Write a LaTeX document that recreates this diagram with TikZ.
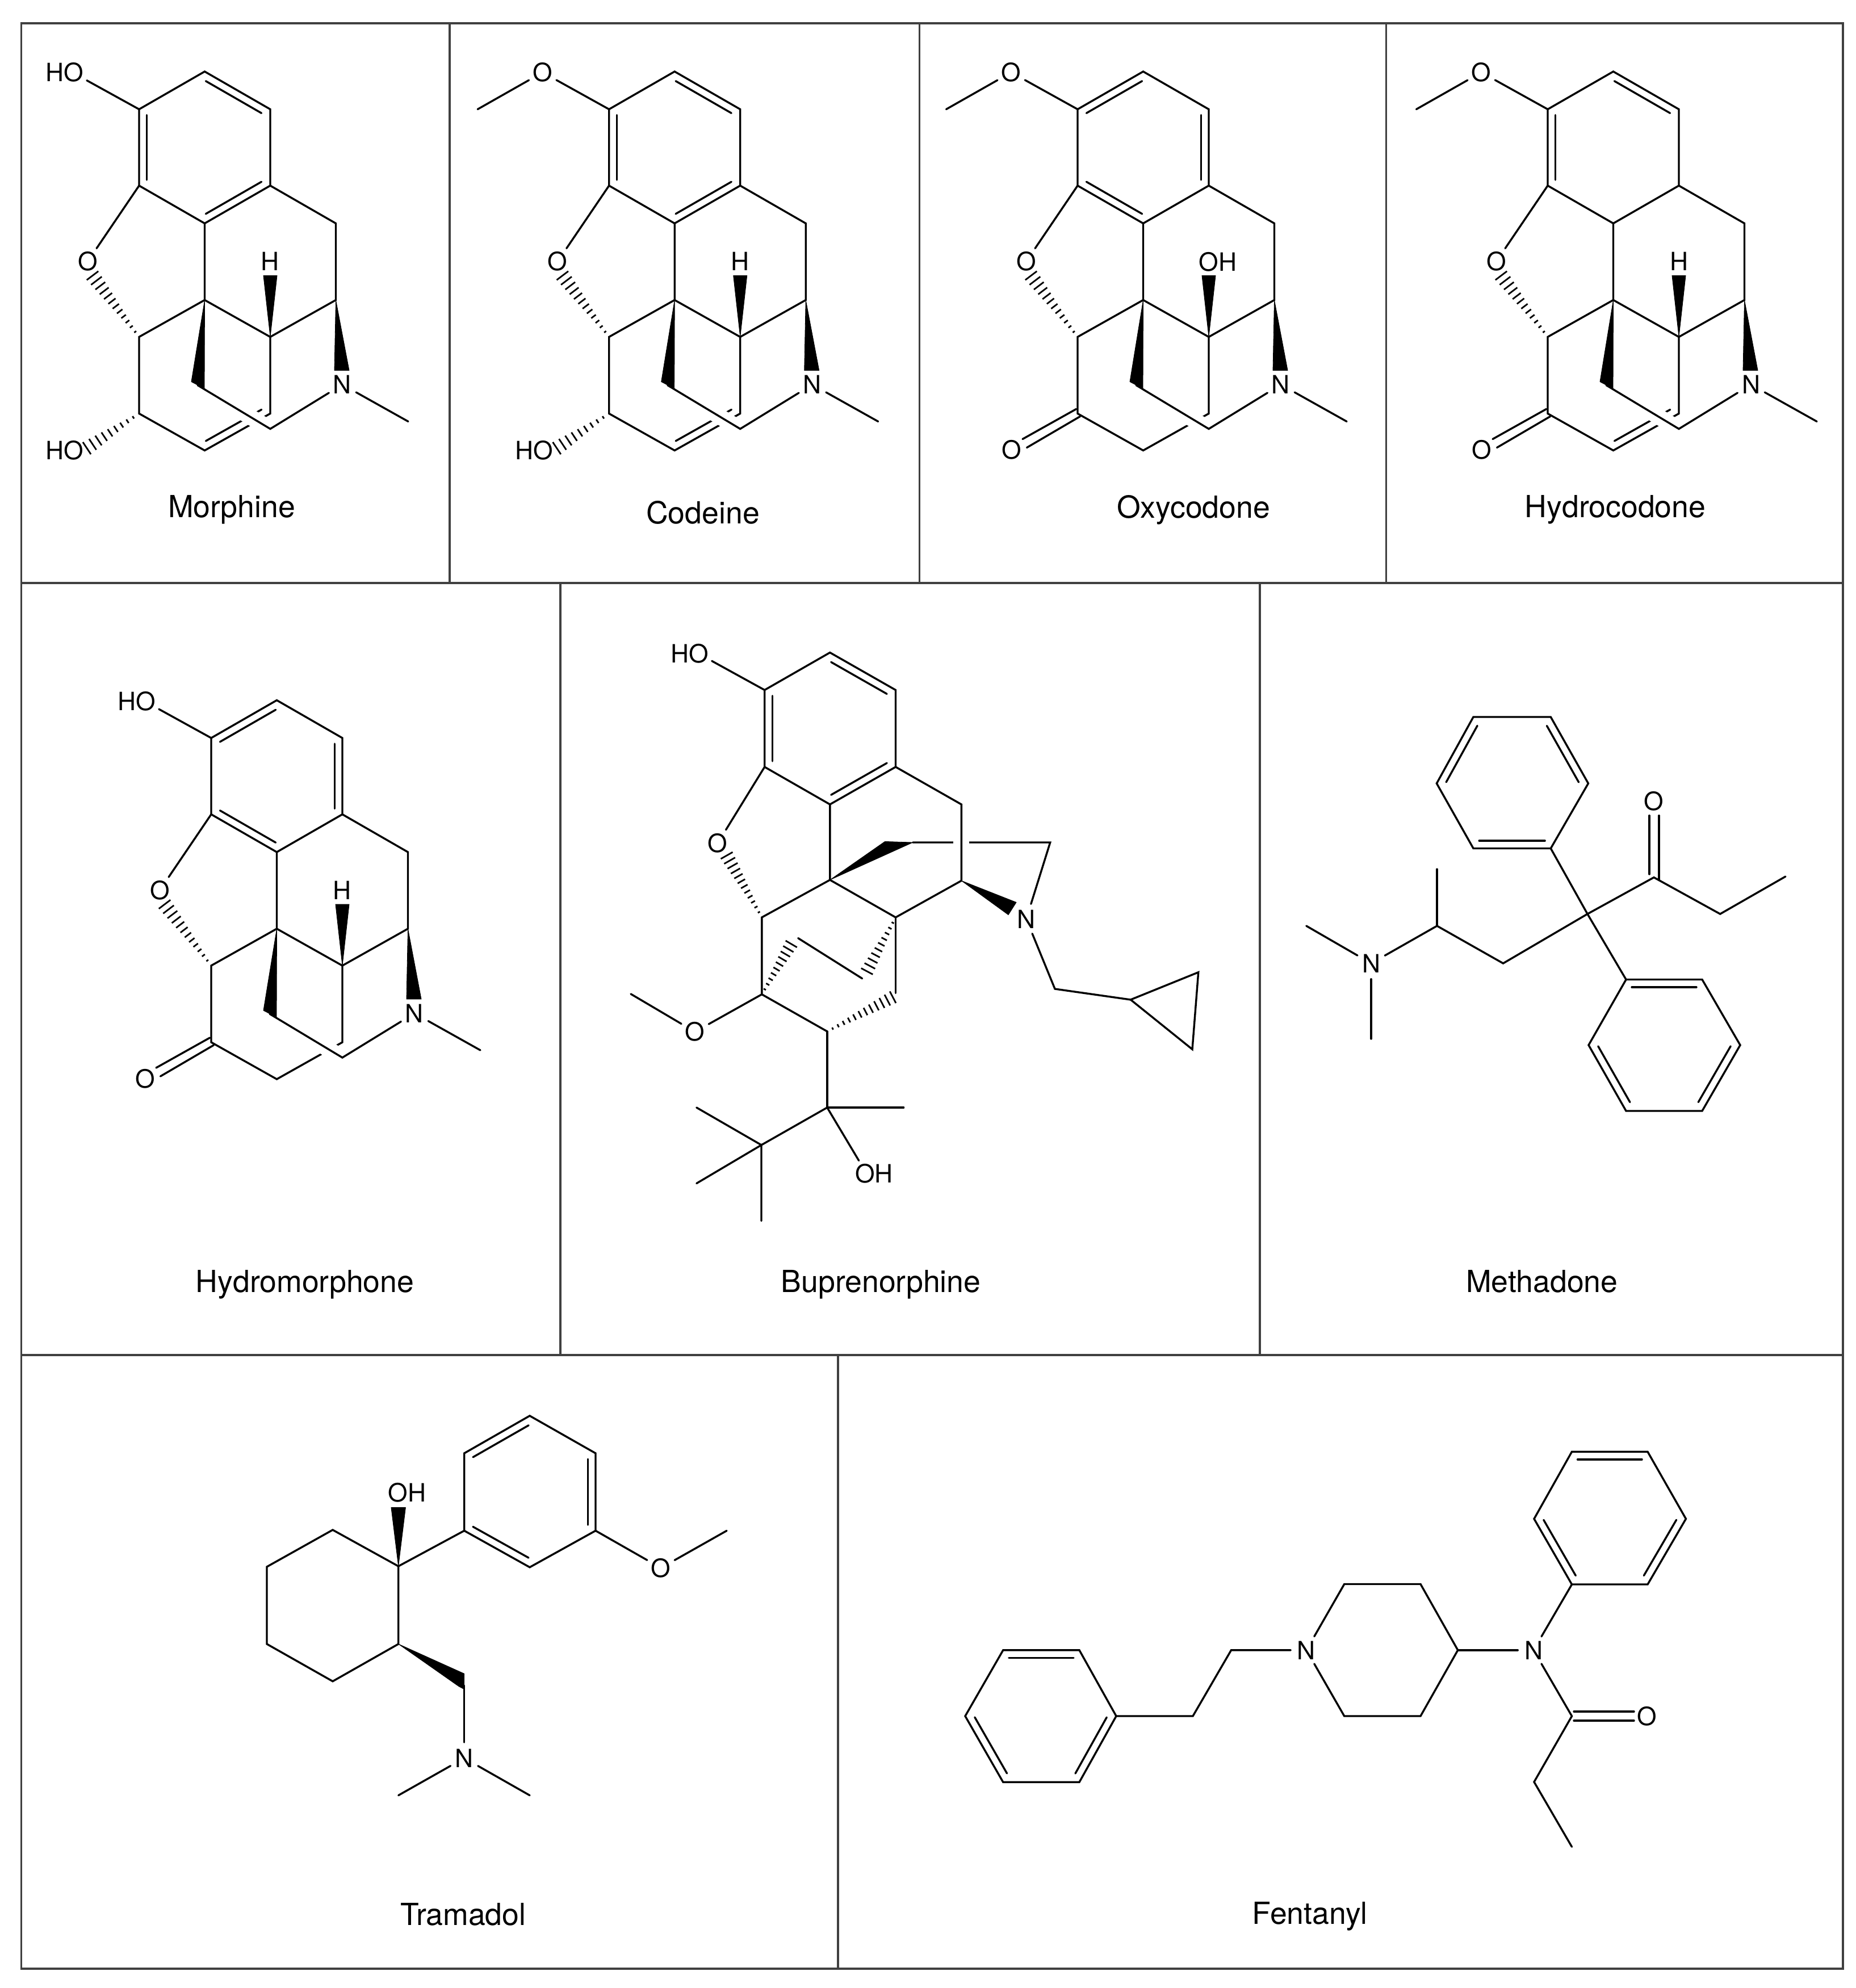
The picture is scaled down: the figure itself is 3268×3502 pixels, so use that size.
\documentclass[tikz,border=0pt]{standalone}
\usepackage{fontspec}
\setmainfont{TeX Gyre Heros}
\usetikzlibrary{calc}
\definecolor{framegrey}{HTML}{404040}
\tikzset{
  bond/.style={line width=0.85pt,line cap=round,line join=miter,black},
  hashline/.style={line width=0.7pt,black},
  halo/.style={line width=7pt,white,line cap=butt},
  wedgefill/.style={fill=black,draw=black,line width=0.2pt,line join=round},
  frameline/.style={line width=0.9pt,framegrey},
  atom/.style={shape=circle,inner sep=0pt,minimum size=13.5pt,font=\fontsize{11.1}{13}\selectfont},
  lab/.style={shape=rectangle,inner sep=1.2pt,font=\fontsize{11.1}{13}\selectfont},
  molname/.style={inner sep=0pt,font=\fontsize{13.4}{15}\selectfont}
}
% inner line of a double bond, lying to the right of A->B
\newcommand{\inb}[2]{%
  \coordinate (ia) at ($(#1)!0.075!(#2)$);
  \coordinate (ib) at ($(#1)!0.925!(#2)$);
  \draw[bond] ($(ia)!3.4pt!-90:(ib)$) -- ($(ib)!3.4pt!90:(ia)$);
}
% hashed bond from narrow A to wide B: n stripes, half width (pt)
\newcommand{\hashb}[4]{%
  \foreach \i in {1,...,#3}{%
    \pgfmathsetmacro\tt{\i/#3}
    \pgfmathsetmacro\ww{#4*\tt+0.3}
    \coordinate (hp) at ($(#1)!\tt!(#2)$);
    \draw[hashline] ($(hp)!\ww pt!90:(#1)$) -- ($(hp)!\ww pt!-90:(#1)$);
  }%
}
% morphinan skeleton: #1 prefix for names, #2 inner double-bond lines
\newcommand{\morphinan}[2]{%
  \coordinate (C3) at (0,0);
  \coordinate (C2) at (115.5,-66.5);
  \coordinate (C1) at (231,0);
  \coordinate (C11) at (231,134.5);
  \coordinate (C12) at (115.5,201);
  \coordinate (C4) at (0,134.5);
  \coordinate (C10) at (346.5,201);
  \coordinate (C9) at (346.5,336);
  \coordinate (C13) at (115.5,336);
  \coordinate (C14) at (231,401);
  \coordinate (C5) at (0,401);
  \coordinate (C6) at (0,536);
  \coordinate (C7) at (115.5,601);
  \coordinate (C8) at (231,536);
  \coordinate (C15) at (103,486);
  \coordinate (C16) at (231,563);
  \coordinate (Me) at (474,550);
  \coordinate (Oh) at (-82,293);
  \coordinate (wa) at (92,480);
  \coordinate (wb) at (115,492);
  \coordinate (wc) at (344,460);
  \coordinate (wd) at (370,460);
  \node[atom] (#1O) at (-90.5,268) {O};
  \node[atom] (#1N) at (358,485) {N};
  \draw[bond] (C3)--(C2)--(C1)--(C11)--(C12)--(C4)--cycle;
  \draw[bond] (C11)--(C10)--(C9)--(C14)--(C13)--(C12);
  \draw[bond] (C13)--(C5)--(C6)--(C7)--(C8)--(C14);
  \draw[bond] (C4)--(#1O);
  #2
  \draw[halo] ($(C15)!0.4!(C16)$) -- ($(C15)!0.9!(C16)$);
  \draw[bond] (C15)--(C16)--(#1N)--(Me);
  \hashb{C5}{Oh}{12}{2.9}
  \fill[wedgefill] (C13)--(wa)--(wb)--cycle;
  \fill[wedgefill] (C9)--(wc)--(wd)--cycle;
}
\newcommand{\topHO}[1]{%
  \node[lab] (#1ho) at (-131,-65) {HO};
  \draw[bond] (C3)--(#1ho.-20);
}
\newcommand{\topOMe}[1]{%
  \node[atom] (#1om) at (-117,-65) {O};
  \coordinate (#1me) at (-231.5,0);
  \draw[bond] (C3)--(#1om)--(#1me);
}
\newcommand{\lowHO}[1]{%
  \node[lab] (#1low) at (-131.5,600.5) {HO};
  \coordinate (#1hh) at (-92,597);
  \hashb{C6}{#1hh}{9}{2.9}
}
\newcommand{\keto}[1]{%
  \node[atom] (#1ket) at (-116.5,600) {O};
  \coordinate (#1ka) at (-2.4,528);
  \coordinate (#1kb) at (-97,581);
  \coordinate (#1kc) at (4.5,541);
  \coordinate (#1kd) at (-89.5,596);
  \draw[bond] (#1ka)--(#1kb);
  \draw[bond] (#1kc)--(#1kd);
}
\newcommand{\wedgeH}[1]{%
  \node[lab] (#1h) at (231,268) {H};
  \coordinate (we) at (219,293);
  \coordinate (wf) at (243,293);
  \fill[wedgefill] (C14)--(we)--(wf)--cycle;
}
\newcommand{\wedgeOH}[1]{%
  \node[lab] (#1oh) at (247,268.5) {OH};
  \coordinate (we) at (219,293);
  \coordinate (wf) at (243,293);
  \fill[wedgefill] (C14)--(we)--(wf)--cycle;
}
\begin{document}
\begin{tikzpicture}[x=0.25pt,y=-0.25pt]
\path[use as bounding box] (0,0) rectangle (3268,3502);
% frame
\draw[frameline] (37.5,41) rectangle (3246,3467.7);
\draw[frameline] (37.5,1026.7) -- (3246,1026.7);
\draw[frameline] (37.5,2386.7) -- (3246,2386.7);
\draw[frameline] (791.7,41) -- (791.7,1026.7);
\draw[frameline] (1619.5,41) -- (1619.5,1026.7);
\draw[frameline] (2441.5,41) -- (2441.5,1026.7);
\draw[frameline] (987,1026.7) -- (987,2386.7);
\draw[frameline] (2219,1026.7) -- (2219,2386.7);
\draw[frameline] (1475.7,2386.7) -- (1475.7,3467.7);
% Morphine
\begin{scope}[shift={(245,192.5)}]
  \morphinan{mo}{\inb{C2}{C1}\inb{C11}{C12}\inb{C4}{C3}\inb{C8}{C7}}
  \topHO{mo}\lowHO{mo}\wedgeH{mo}
\end{scope}
\node[molname] (namemo) at (408,898) {Morphine};
% Codeine
\begin{scope}[shift={(1072.7,192.5)}]
  \morphinan{co}{\inb{C2}{C1}\inb{C11}{C12}\inb{C4}{C3}\inb{C8}{C7}}
  \topOMe{co}\lowHO{co}\wedgeH{co}
\end{scope}
\node[molname] (nameco) at (1238,903) {Codeine};
% Oxycodone
\begin{scope}[shift={(1898,192.5)}]
  \morphinan{ox}{\inb{C3}{C2}\inb{C1}{C11}\inb{C12}{C4}}
  \topOMe{ox}\keto{ox}\wedgeOH{ox}
\end{scope}
\node[molname] (nameox) at (2102,898) {Oxycodone};
% Hydrocodone
\begin{scope}[shift={(2726,192.5)}]
  \morphinan{hc}{\inb{C2}{C1}\inb{C4}{C3}\inb{C8}{C7}}
  \topOMe{hc}\keto{hc}\wedgeH{hc}
\end{scope}
\node[molname] (namehc) at (2845,898) {Hydrocodone};
% Hydromorphone
\begin{scope}[shift={(372,1300)}]
  \morphinan{hm}{\inb{C3}{C2}\inb{C1}{C11}\inb{C12}{C4}}
  \topHO{hm}\keto{hm}\wedgeH{hm}
\end{scope}
\node[molname] (namehm) at (537,2263) {Hydromorphone};
% Buprenorphine
\coordinate (bC3) at (1346.7,1215.5);
\coordinate (bC2) at (1461.8,1149.5);
\coordinate (bC1) at (1577.5,1215.5);
\coordinate (bC11) at (1577.5,1351);
\coordinate (bC12) at (1461.8,1417);
\coordinate (bC4) at (1346.7,1351);
\coordinate (bC10) at (1693.3,1417);
\coordinate (bC9) at (1693.3,1551.4);
\coordinate (bC13) at (1461.8,1550);
\coordinate (bC14) at (1577.5,1616);
\coordinate (bC5) at (1341.8,1616);
\coordinate (bC6) at (1341.8,1751.6);
\coordinate (bC7) at (1456.9,1816.9);
\coordinate (bC8) at (1577.5,1749.4);
\coordinate (bWa) at (1558.6,1482.4);
\coordinate (bWb) at (1607.7,1484);
\coordinate (bR) at (1849.7,1484);
\coordinate (bWc) at (1790,1589.5);
\coordinate (bWd) at (1776,1611.5);
\coordinate (bCH) at (1858,1742);
\coordinate (bCp) at (1991.4,1761);
\coordinate (bCq) at (2110.7,1712.7);
\coordinate (bCr) at (2100,1848.4);
\coordinate (bMe) at (1111,1750.9);
\coordinate (bQ) at (1456.9,1951);
\coordinate (bQm) at (1591.6,1951);
\coordinate (bT) at (1341,2017);
\coordinate (bTa) at (1226.8,1951);
\coordinate (bTb) at (1226.8,2084.6);
\coordinate (bTc) at (1341,2150.6);
\coordinate (bEa) at (1405.7,1652.6);
\coordinate (bEb) at (1518.6,1723.7);
\coordinate (bHa) at (1393.7,1662.9);
\coordinate (bHb) at (1527,1711);
\coordinate (bHo) at (1280,1507);
\coordinate (bHc) at (1572.6,1756.7);
\node[atom] (bO) at (1264,1485.4) {O};
\node[atom] (bN) at (1807.6,1618.9) {N};
\node[atom] (bOm) at (1224,1817.6) {O};
\node[lab] (bHOt) at (1214.9,1151.7) {HO};
\node[lab] (bOH) at (1539.6,2067) {OH};
\draw[bond] (bC3)--(bC2)--(bC1)--(bC11)--(bC12)--(bC4)--cycle;
\inb{bC2}{bC1}\inb{bC11}{bC12}\inb{bC4}{bC3}
\draw[bond] (bC3)--(bHOt.-18);
\draw[bond] (bC4)--(bO);
\draw[bond] (bWb)--(bR)--(bN);
\draw[halo] ($(bC10)!0.25!(bC9)$)--($(bC10)!0.75!(bC9)$);
\draw[bond] (bC11)--(bC10)--(bC9)--(bC14)--(bC13)--(bC12);
\draw[bond] (bC13)--(bC5)--(bC6)--(bC7);
\draw[bond] (bC14)--(bC8);
\draw[bond] (bEa)--(bEb);
\draw[bond] (bN)--(bCH)--(bCp);
\draw[bond] (bCp)--(bCq)--(bCr)--cycle;
\draw[bond] (bC6)--(bOm)--(bMe);
\draw[bond] (bC7)--(bQ)--(bQm);
\draw[bond] (bQ)--(bT)--(bTa);
\draw[bond] (bTb)--(bT)--(bTc);
\draw[bond] (bQ)--(bOH.140);
\fill[wedgefill] (bC13)--(bWa)--(bWb)--cycle;
\fill[wedgefill] (bC9)--(bWc)--(bWd)--cycle;
\hashb{bC5}{bHo}{12}{2.7}
\hashb{bC6}{bHa}{10}{2.6}
\hashb{bC14}{bHb}{10}{2.6}
\hashb{bC7}{bHc}{12}{2.6}
\node[molname] (namebu) at (1551.6,2263) {Buprenorphine};
% Methadone
\coordinate (ma1) at (2595,1263);
\coordinate (ma2) at (2731.3,1263);
\coordinate (ma3) at (2797.4,1380);
\coordinate (ma4) at (2731.3,1494.5);
\coordinate (ma5) at (2595,1494.5);
\coordinate (ma6) at (2530.4,1380);
\coordinate (mb1) at (2864,1725.5);
\coordinate (mb2) at (2998,1725.5);
\coordinate (mb3) at (3065,1841);
\coordinate (mb4) at (2998,1957);
\coordinate (mb5) at (2864,1957);
\coordinate (mb6) at (2798,1841);
\coordinate (mq) at (2796,1610);
\coordinate (mco) at (2913,1545.6);
\coordinate (mch) at (3029.7,1610);
\coordinate (mme) at (3144.8,1544);
\coordinate (mce) at (2647.5,1697);
\coordinate (mcm) at (2531,1631);
\coordinate (mup) at (2531,1531);
\coordinate (mn1) at (2300.8,1631);
\coordinate (mn2) at (2415,1830);
\coordinate (moa) at (2905,1436.6);
\coordinate (mob) at (2905,1540);
\coordinate (moc) at (2922,1436.6);
\coordinate (mod) at (2922,1550);
\node[atom] (mO) at (2913,1411) {O};
\node[atom] (mN) at (2415,1697) {N};
\draw[bond] (ma1)--(ma2)--(ma3)--(ma4)--(ma5)--(ma6)--cycle;
\inb{ma6}{ma1}\inb{ma2}{ma3}\inb{ma4}{ma5}
\draw[bond] (mb1)--(mb2)--(mb3)--(mb4)--(mb5)--(mb6)--cycle;
\inb{mb1}{mb2}\inb{mb3}{mb4}\inb{mb5}{mb6}
\draw[bond] (ma4)--(mq)--(mb1);
\draw[bond] (mN)--(mcm)--(mce)--(mq)--(mco)--(mch)--(mme);
\draw[bond] (mcm)--(mup);
\draw[bond] (mN)--(mn1);
\draw[bond] (mN)--(mn2);
\draw[bond] (moa)--(mob);
\draw[bond] (moc)--(mod);
\node[molname] (nameme) at (2715.7,2257) {Methadone};
% Tramadol
\coordinate (t1) at (701.7,2759);
\coordinate (t2) at (586,2695);
\coordinate (t3) at (470,2760);
\coordinate (t4) at (470,2896);
\coordinate (t5) at (586,2961.7);
\coordinate (t6) at (701.7,2896);
\coordinate (a1) at (817.7,2696.4);
\coordinate (a2) at (817.7,2560);
\coordinate (a3) at (933,2494);
\coordinate (a4) at (1049,2560);
\coordinate (a5) at (1049,2696.4);
\coordinate (a6) at (933,2760.8);
\coordinate (tMe) at (1280,2696.4);
\coordinate (tW1) at (689,2655.6);
\coordinate (tW2) at (714.4,2655.6);
\coordinate (tW3) at (817.7,2948.3);
\coordinate (tW4) at (817.7,2975.7);
\coordinate (tW5) at (808,2970.6);
\coordinate (tCH) at (817.7,2969);
\coordinate (tN1) at (701.7,3162.6);
\coordinate (tN2) at (933,3162.6);
\node[lab] (tOH) at (717,2629.4) {OH};
\node[atom] (tO) at (1164,2762) {O};
\node[atom] (tN) at (817.7,3097) {N};
\draw[bond] (t1)--(t2)--(t3)--(t4)--(t5)--(t6)--cycle;
\draw[bond] (a1)--(a2)--(a3)--(a4)--(a5)--(a6)--cycle;
\inb{a2}{a3}\inb{a4}{a5}\inb{a6}{a1}
\draw[bond] (t1)--(a1);
\draw[bond] (a5)--(tO)--(tMe);
\draw[bond] (tCH)--(tN);
\draw[bond] (tN)--(tN1);
\draw[bond] (tN)--(tN2);
\fill[wedgefill] (t1)--(tW1)--(tW2)--cycle;
\fill[wedgefill] (t6)--(tW3)--(tW4)--(tW5)--cycle;
\node[molname] (nametr) at (815.8,3372) {Tramadol};
% Fentanyl
\coordinate (fa1) at (1766.8,2906.8);
\coordinate (fa2) at (1901,2906.8);
\coordinate (fa3) at (1966,3023);
\coordinate (fa4) at (1901,3139.4);
\coordinate (fa5) at (1766.8,3139.4);
\coordinate (fa6) at (1700,3023);
\coordinate (fc1) at (2101,3023);
\coordinate (fc2) at (2168.5,2906.8);
\coordinate (fp1) at (2367.7,2790.5);
\coordinate (fp2) at (2502,2790.5);
\coordinate (fp3) at (2567.7,2906.8);
\coordinate (fp4) at (2502,3023);
\coordinate (fp5) at (2367.7,3023);
\coordinate (fb1) at (2768.5,2791);
\coordinate (fb2) at (2702,2675.5);
\coordinate (fb3) at (2768.5,2557.3);
\coordinate (fb4) at (2902,2557.3);
\coordinate (fb5) at (2969.4,2675.5);
\coordinate (fb6) at (2902,2791);
\coordinate (fco) at (2768.5,3023);
\coordinate (fch) at (2702,3139);
\coordinate (fme) at (2768.5,3253.3);
\coordinate (fda) at (2772,3015);
\coordinate (fdb) at (2878,3015);
\coordinate (fdc) at (2772,3031);
\coordinate (fdd) at (2878,3031);
\node[atom] (fN1) at (2301,2906.8) {N};
\node[atom] (fN2) at (2701,2906.8) {N};
\node[atom] (fO) at (2901,3023) {O};
\draw[bond] (fa1)--(fa2)--(fa3)--(fa4)--(fa5)--(fa6)--cycle;
\inb{fa1}{fa2}\inb{fa3}{fa4}\inb{fa5}{fa6}
\draw[bond] (fa3)--(fc1)--(fc2)--(fN1);
\draw[bond] (fN1)--(fp1)--(fp2)--(fp3)--(fp4)--(fp5)--(fN1);
\draw[bond] (fp3)--(fN2);
\draw[bond] (fb1)--(fb2)--(fb3)--(fb4)--(fb5)--(fb6)--cycle;
\inb{fb1}{fb2}\inb{fb3}{fb4}\inb{fb5}{fb6}
\draw[bond] (fN2)--(fb1);
\draw[bond] (fN2)--(fco)--(fch)--(fme);
\draw[bond] (fda)--(fdb);
\draw[bond] (fdc)--(fdd);
\node[molname] (namefe) at (2307,3376) {Fentanyl};
\end{tikzpicture}
\end{document}
